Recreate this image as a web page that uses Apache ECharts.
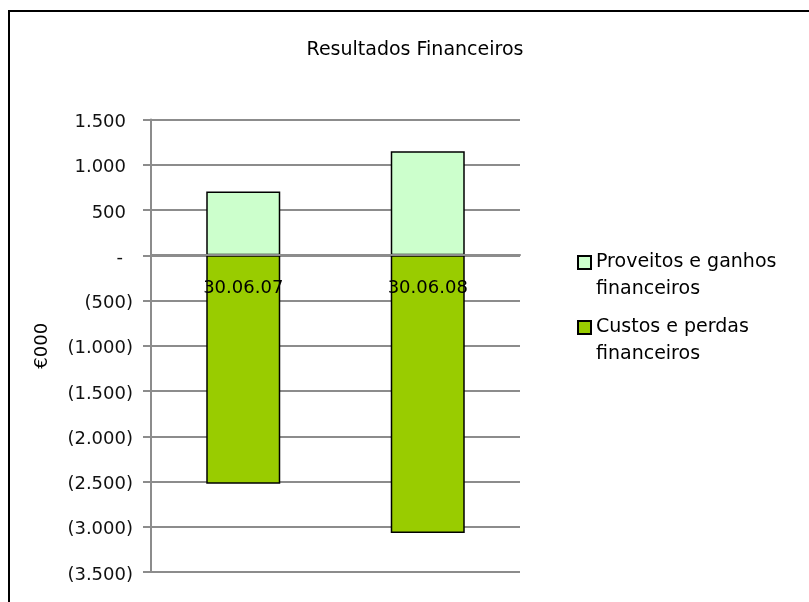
<!DOCTYPE html>
<html>
<head>
<meta charset="utf-8">
<script src="https://cdn.jsdelivr.net/npm/echarts@6/dist/echarts.min.js"></script>
<style>
  html, body { margin: 0; padding: 0; background: #fff; }
  #chart { width: 809px; height: 602px; }
</style>
</head>
<body>
<div id="chart"></div>
<script>
// values in €000
var categories = ['30.06.07', '30.06.08'];
var proveitos = [705, 1150];
var custos = [-2525, -3070];
var seriesNames = ['Proveitos e ganhos\nfinanceiros', 'Custos e perdas\nfinanceiros'];
var yMin = -3500, yMax = 1500, yStep = 500;

var FONT = 'DejaVu Sans';
var GRID = '#8c8c8c';
var gridTop = 119.5, gridBottom = 30;
var plotH = 602 - gridTop - gridBottom;
// pixels from grid bottom up to the zero line, the category axis sits there
var zeroOffset = Math.round(plotH * (0 - yMin) / (yMax - yMin));

// accounting style: 1.500 / - / (1.500)
function fmtTick(v) {
    if (v === 0) return '{z|-}';
    var s = Math.abs(v).toString().replace(/\B(?=(\d{3})+(?!\d))/g, '.');
    return v < 0 ? '{n|(' + s + ')}' : '{p|' + s + '}';
}

var chart = echarts.init(document.getElementById('chart'));
var lbl = { fontFamily: FONT, fontSize: 18, color: '#111' };

chart.setOption({
    animation: false,
    title: {
        text: 'Resultados Financeiros',
        left: 410,
        top: 36,
        textAlign: 'center',
        textStyle: { fontFamily: FONT, fontSize: 19, fontWeight: 'normal', color: '#000' }
    },
    graphic: [{
        type: 'rect',
        silent: true,
        z: -10,
        shape: { x: 9, y: 11, width: 900, height: 700 },
        style: { fill: 'none', stroke: '#000', lineWidth: 2 }
    }],
    legend: {
        orient: 'vertical',
        left: 577,
        top: 222,
        padding: 0,
        itemGap: -16,
        itemWidth: 13,
        itemHeight: 13,
        icon: 'rect',
        selectedMode: false,
        data: seriesNames,
        // blank first line so the square lines up with the first text line
        formatter: function (name) { return ' \n' + name; },
        textStyle: { fontFamily: FONT, fontSize: 19, lineHeight: 27, color: '#000' }
    },
    grid: {
        left: 151,
        right: 289,
        top: gridTop,
        bottom: gridBottom,
        containLabel: false,
        outerBoundsMode: 'none'
    },
    xAxis: {
        type: 'category',
        data: categories,
        z: 3,
        position: 'bottom',
        offset: -zeroOffset,
        axisLine: { onZero: false, lineStyle: { color: GRID, width: 2 } },
        axisTick: { length: 6, lineStyle: { color: GRID, width: 2 } },
        axisLabel: { margin: 24, fontFamily: FONT, fontSize: 18, color: '#000' }
    },
    yAxis: {
        type: 'value',
        min: yMin,
        max: yMax,
        interval: yStep,
        name: '€000',
        nameLocation: 'middle',
        nameRotate: 90,
        nameGap: 100,
        nameTextStyle: { fontFamily: FONT, fontSize: 18, color: '#000' },
        axisLine: { show: true, lineStyle: { color: GRID, width: 2 } },
        axisTick: { show: true, length: 8, lineStyle: { color: GRID, width: 2 } },
        splitLine: { lineStyle: { color: GRID, width: 2 } },
        axisLabel: {
            margin: 18,
            formatter: fmtTick,
            rich: {
                p: Object.assign({ padding: [6, 7, 0, 0] }, lbl),
                z: Object.assign({ padding: [6, 10, 0, 0] }, lbl),
                n: Object.assign({ padding: [6, 0, 0, 0] }, lbl)
            }
        }
    },
    series: [{
        name: seriesNames[0],
        type: 'bar',
        stack: 'res',
        barWidth: 74,
        data: proveitos,
        itemStyle: { color: '#ccffcc', borderColor: '#000', borderWidth: 1.5 }
    }, {
        name: seriesNames[1],
        type: 'bar',
        stack: 'res',
        barWidth: 74,
        data: custos,
        itemStyle: { color: '#99cc00', borderColor: '#000', borderWidth: 1.5 }
    }]
});
</script>
</body>
</html>
